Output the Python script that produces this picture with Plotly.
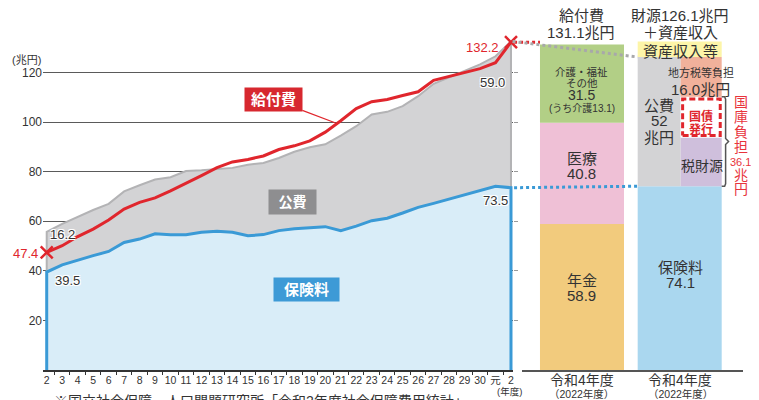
import plotly.graph_objects as go

# ---------------- data ----------------
year_labels = ["2", "3", "4", "5", "6", "7", "8", "9", "10", "11", "12", "13", "14", "15",
               "16", "17", "18", "19", "20", "21", "22", "23", "24", "25", "26", "27", "28",
               "29", "30", "元", "2"]
benefit = [47.4, 50.1, 53.8, 56.8, 60.5, 64.9, 67.6, 69.4, 72.2, 75.2, 78.4, 81.6, 83.9, 84.9,
           86.3, 88.9, 90.4, 92.4, 95.9, 100.5, 105.4, 108.2, 109.1, 110.7, 112.2, 116.8, 118.4,
           120.2, 121.5, 123.9, 132.2]
insurance = [39.5, 42.4, 44.4, 46.1, 47.8, 51.4, 52.8, 54.9, 54.5, 54.5, 55.5, 55.9, 55.5, 54.1,
             54.6, 56.2, 57.0, 57.5, 57.8, 56.2, 58.0, 60.2, 61.2, 63.3, 65.6, 67.2, 69.0, 70.8,
             72.5, 74.1, 73.5]
public = [16.2, 16.5, 17.4, 18.4, 19.2, 20.6, 21.7, 21.9, 23.2, 25.7, 25.0, 25.1, 26.0, 28.7,
          28.9, 29.3, 31.0, 32.3, 33.2, 38.3, 40.3, 42.8, 42.9, 43.1, 44.8, 48.2, 49.1, 50.0,
          50.7, 52.4, 59.0]

# FY2022 budget bars
benefit_parts_names = ["年金", "医療", "介護・福祉その他"]
benefit_parts = [58.9, 40.8, 31.5]
benefit_total_2022 = 131.1
care_2022 = 13.1
insurance_2022 = 74.1
public_2022 = 52
local_tax_2022 = 16.0
tax_2022 = 19.6
bond_2022 = 16.5
national_2022 = 36.1
assets_2022 = 6.3
source_total_2022 = 126.1

idx = list(range(len(year_labels)))
total = [a + b for a, b in zip(insurance, public)]

# ---------------- style ----------------
RED = "#e0262d"
BLUE = "#3a9ad6"
GRAY_FILL = "#d3d3d5"
GRAY_EDGE = "#b3b3b5"
BLUE_FILL = "#d9edf8"
TXT = "#333333"
PAGE_OFF = 8                      # default body margin of the html page
W, H = 759 - PAGE_OFF, 400 - PAGE_OFF
ML, MR, MT, MB = 43 - PAGE_OFF, 16, 35 - PAGE_OFF, 30
PW, PH = W - ML - MR, H - MT - MB


def X(px):  # page pixel -> paper
    return (px - PAGE_OFF - ML) / PW


def Y(py):
    return (H - MB - (py - PAGE_OFF)) / PH


x1_dom = [0, X(513)]
x2_dom = [X(522), 1]
x1_range = [-0.24, 30.13]
x2_range = [0.386, 2.648]
YMAX = PH / 2.48


def p1(v):
    return x1_dom[0] + (v - x1_range[0]) / (x1_range[1] - x1_range[0]) * (x1_dom[1] - x1_dom[0])


def p2(v):
    return x2_dom[0] + (v - x2_range[0]) / (x2_range[1] - x2_range[0]) * (x2_dom[1] - x2_dom[0])


fig = go.Figure()
ex = [idx[0]] + idx + [idx[-1]]
fig.add_trace(go.Scatter(x=ex, y=[0] + total + [0], fill="toself", fillcolor=GRAY_FILL,
                         line=dict(width=0), mode="lines", hoverinfo="skip"))
fig.add_trace(go.Scatter(x=ex, y=[insurance[0]] + total + [0], mode="lines",
                         line=dict(color=GRAY_EDGE, width=2), hoverinfo="skip"))
fig.add_trace(go.Scatter(x=ex, y=[0] + insurance + [0], fill="toself", fillcolor=BLUE_FILL,
                         line=dict(width=0), mode="lines", hoverinfo="skip"))
fig.add_trace(go.Scatter(x=ex, y=[0] + insurance + [0], mode="lines",
                         line=dict(color=BLUE, width=3), hoverinfo="skip"))
fig.add_trace(go.Scatter(x=idx, y=benefit, mode="lines", line=dict(color=RED, width=3),
                         hoverinfo="skip"))
fig.add_trace(go.Scatter(x=[idx[0], idx[-1]], y=[benefit[0], benefit[-1]], mode="markers",
                         marker=dict(symbol="x-thin", size=12, line=dict(color=RED, width=2.5)),
                         cliponaxis=False, hoverinfo="skip"))
# dummy trace for right-side tick axis
fig.add_trace(go.Scatter(x=[0], y=[0], yaxis="y2", mode="none", hoverinfo="skip"))


def bar(xc, val, base, color, off=-0.43, w=0.86):
    return go.Bar(x=[xc], y=[val], base=[base], offset=off, width=w,
                  marker=dict(color=color, line=dict(width=0)),
                  xaxis="x2", yaxis="y3", hoverinfo="skip")


bar_colors1 = ["#f2cb7d", "#efc0d6", "#b2cf86"]
b = 0
for v, c in zip(benefit_parts, bar_colors1):
    fig.add_trace(bar(1, v, b, c))
    b += v

fig.add_trace(bar(2, insurance_2022, 0, "#aad7ef"))
pub_sum = tax_2022 + bond_2022 + local_tax_2022
fig.add_trace(bar(2, pub_sum, insurance_2022, GRAY_FILL, off=-0.43, w=0.44))
fig.add_trace(bar(2, tax_2022, insurance_2022, "#cfbfdc", off=0.01, w=0.42))
fig.add_trace(bar(2, bond_2022, insurance_2022 + tax_2022, "#ffffff", off=0.01, w=0.42))
fig.add_trace(bar(2, local_tax_2022, insurance_2022 + tax_2022 + bond_2022, "#f1b19b",
                  off=0.01, w=0.42))
fig.add_trace(bar(2, assets_2022, insurance_2022 + pub_sum, "#fdf5a8"))

# dashed box around 国債発行
bx0, bx1 = 2 + 0.03, 2 + 0.415
by0, by1 = insurance_2022 + tax_2022 + 0.9, insurance_2022 + tax_2022 + bond_2022 - 0.9
fig.add_trace(go.Scatter(x=[bx0, bx1, bx1, bx0, bx0], y=[by0, by0, by1, by1, by0],
                         mode="lines", line=dict(color=RED, width=3, dash="6px,3px"),
                         xaxis="x2", yaxis="y3", hoverinfo="skip"))
# bracket for 国庫負担
top = insurance_2022 + national_2022
bot = insurance_2022
mid = (top + bot) / 2
fig.add_trace(go.Scatter(x=[2.43, 2.46, 2.47, 2.47, 2.50, 2.47, 2.47, 2.46, 2.43],
                         y=[top, top, top - 1, mid + 1.2, mid, mid - 1.2, bot + 1, bot, bot],
                         mode="lines", line=dict(color="#555555", width=1.5),
                         xaxis="x2", yaxis="y3", hoverinfo="skip", cliponaxis=False))

shapes = [
    dict(type="line", xref="paper", yref="y", x0=p1(30.2), y0=benefit[-1], x1=p2(1 - 0.43),
         y1=benefit[-1], line=dict(color=RED, width=3, dash="dot")),
    dict(type="line", xref="paper", yref="y", x0=p1(30.1), y0=total[-1], x1=p2(2 - 0.43),
         y1=insurance_2022 + pub_sum, line=dict(color="#a8a8aa", width=3, dash="dot")),
    dict(type="line", xref="paper", yref="y", x0=p1(30.2), y0=insurance[-1], x1=p2(2 - 0.43),
         y1=insurance_2022, line=dict(color=BLUE, width=3, dash="dot")),
]

HALO = "1px 1px 0 #fff, -1px -1px 0 #fff, 1px -1px 0 #fff, -1px 1px 0 #fff, 0 1px 0 #fff, 0 -1px 0 #fff"
ann = []


def T(text, px, py, size, color=TXT, xanchor="center", yanchor="middle", shadow=None):
    f = dict(size=size, color=color)
    if shadow:
        f["shadow"] = shadow
    ann.append(dict(text=text, x=X(px), y=Y(py), xref="paper", yref="paper", showarrow=False,
                    xanchor=xanchor, yanchor=yanchor, font=f))


T("(兆円)", 26, 60, 11)
T("16.2", 48, 234, 13, xanchor="left", shadow=HALO)
T("39.5", 67.5, 280, 13, shadow=HALO)
T("47.4", 39.5, 253, 13, color=RED, xanchor="right")
T("132.2", 482, 47, 13, color=RED)
T("59.0", 492, 82, 13, shadow=HALO)
T("73.5", 495.5, 200, 13, shadow=HALO)
T("(年度)", 509, 391, 9.5)

# label boxes
ann.append(dict(text="<b>給付費</b>", x=18.63, y=99.7, xref="x", yref="y", showarrow=True,
                arrowhead=0, arrowwidth=1.2, arrowcolor=RED, ax=-61.7, ay=-23.4,
                bgcolor="#d7282f", width=57, height=23, borderpad=0,
                font=dict(size=15, color="white")))
ann.append(dict(text="<b>公費</b>", x=X(267.5), y=Y(202), xref="paper", yref="paper",
                showarrow=False, bgcolor="#8e8e90", width=47, height=24, borderpad=0,
                font=dict(size=14, color="white")))
ann.append(dict(text="<b>保険料</b>", x=X(272.5), y=Y(301.5), xref="paper", yref="paper",
                showarrow=False, bgcolor="#3d9ad6", width=65, height=23, borderpad=0,
                font=dict(size=15, color="white")))

# right panel texts
T("給付費", 581.7, 15, 15)
T(f"{benefit_total_2022}兆円", 581, 32, 15)
T(f"財源{source_total_2022}兆円", 680, 15, 15)
T("＋資産収入", 680, 32, 15)
T("介護・福祉", 581.7, 72.2, 10.5)
T("その他", 581.7, 83.3, 10.5)
T(f"{benefit_parts[2]}", 581.7, 95, 14)
T(f"(うち介護{care_2022})", 581.7, 108, 10)
T(benefit_parts_names[1], 581.7, 158.3, 15)
T(f"{benefit_parts[1]}", 581.7, 174, 15)
T(benefit_parts_names[0], 581.7, 280, 15)
T(f"{benefit_parts[0]}", 581.7, 295, 15)
T("資産収入等", 680, 51.7, 15)
T("地方税等負担", 701, 72.7, 11)
T(f"{local_tax_2022}兆円", 700.5, 89.3, 15)
T("公費", 659.3, 106, 15)
T(f"{public_2022}", 659.3, 120.7, 15)
T("兆円", 659.3, 137.3, 15)
T("<b>国債</b>", 700.5, 116.5, 12, color=RED)
T("<b>発行</b>", 700.5, 129.5, 12, color=RED)
T("税財源", 701.7, 166, 14)
T("保険料", 680, 267.3, 15)
T(f"{insurance_2022}", 680, 282.7, 15)
for ch, yy, sz in [("国", 101.7, 14), ("庫", 117.3, 14), ("負", 131.9, 14), ("担", 147.3, 14),
                   (f"{national_2022}", 161.7, 11), ("兆", 174.5, 14), ("円", 188.5, 14)]:
    T(ch, 740.7, yy, sz, color="#e8343c")
for cx in (581.7, 680):
    T("令和4年度", cx, 380, 14)
    T("（2022年度）", cx, 394, 10.5)

T("※国立社会保障・人口問題研究所「令和2年度社会保障費用統計」", 52, 391, 14,
  xanchor="left", yanchor="top")

fig.update_layout(
    template="none",
    width=W, height=H, margin=dict(l=ML, r=MR, t=MT, b=MB),
    paper_bgcolor="white", plot_bgcolor="white",
    showlegend=False, barmode="overlay",
    font=dict(family="Liberation Sans, Noto Sans CJK JP, sans-serif", color=TXT),
    xaxis=dict(domain=x1_dom, range=x1_range, anchor="y", tickmode="array", tickvals=idx,
               ticktext=year_labels, ticks="", showline=True, linecolor="#333", linewidth=1.5,
               showgrid=False, zeroline=False, tickfont=dict(size=10.5, color=TXT),
               minor=dict(tickvals=[i + 0.5 for i in range(-1, 31)], ticks="outside",
                          ticklen=3, tickcolor="#333", tickwidth=1, showgrid=False)),
    yaxis=dict(domain=[0, 1], range=[0, YMAX], anchor="x", tickmode="array",
               tickvals=[20, 40, 60, 80, 100, 120], ticks="", showgrid=True,
               gridcolor="#5a5a5a", gridwidth=1, zeroline=False, showline=False,
               tickfont=dict(size=12, color=TXT)),
    yaxis2=dict(overlaying="y", side="right", anchor="x", range=[0, YMAX], tickmode="array",
                tickvals=[20, 40, 60, 80, 100, 120], ticks="outside", ticklen=4,
                tickcolor="#9a9a9a", showticklabels=False, showgrid=False, zeroline=False,
                showline=False),
    xaxis2=dict(domain=x2_dom, range=x2_range, anchor="y3", showline=True, linecolor="#555",
                linewidth=1.5, showticklabels=False, ticks="", showgrid=False, zeroline=False),
    yaxis3=dict(domain=[0, 1], range=[0, YMAX], anchor="x2", visible=False),
    shapes=shapes,
    annotations=ann,
)

fig.write_html("out.html")
